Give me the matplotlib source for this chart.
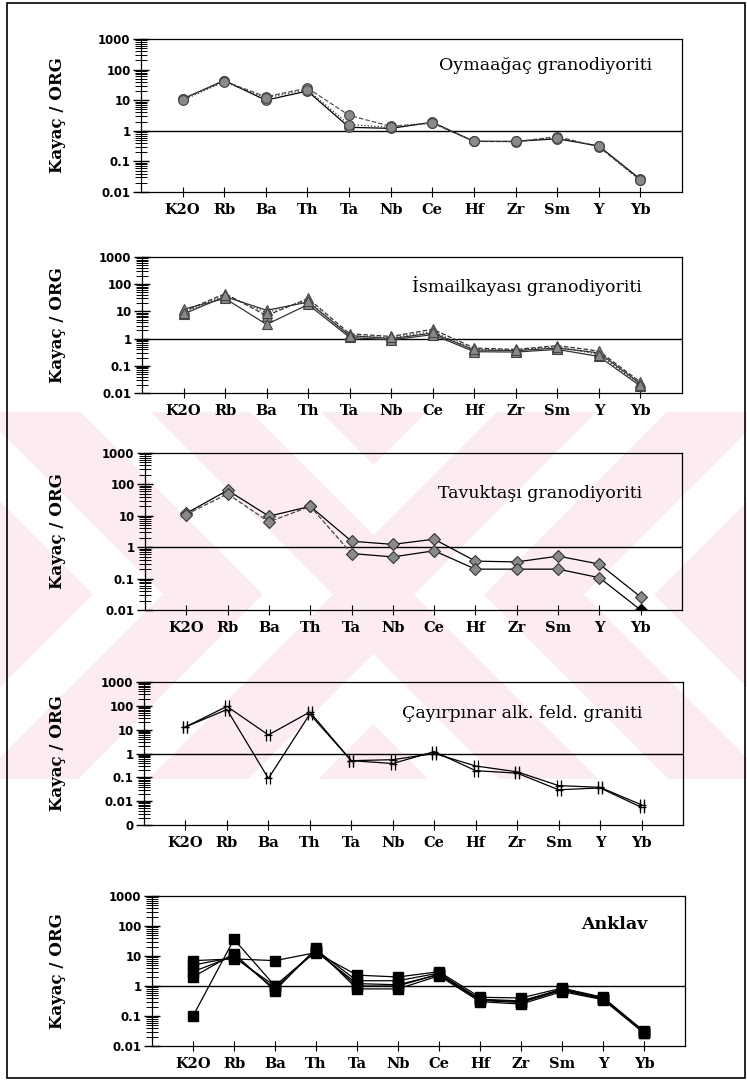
import numpy as np
import matplotlib.pyplot as plt
from matplotlib.path import Path
from matplotlib.patches import Rectangle
from matplotlib.ticker import FixedLocator, LogLocator, NullFormatter

# Veriler (Kayaç / ORG)
elementler = ['K2O', 'Rb', 'Ba', 'Th', 'Ta', 'Nb', 'Ce', 'Hf', 'Zr', 'Sm', 'Y', 'Yb']

oymaagac_1 = [11, 44, 10, 20, 1.3, 1.2, 1.9, 0.45, 0.45, 0.55, 0.32, 0.026]
oymaagac_2 = [11, 42, 13, 25, 3.2, 1.4, 1.8, 0.46, 0.44, 0.65, 0.30, 0.024]
oymaagac_3 = [10, 40, 12, 22, 1.6, 1.3, 1.8, 0.45, 0.45, 0.60, 0.31, 0.025]

ismail_1 = [8, 35, 11, 22, 1.3, 1.0, 1.6, 0.38, 0.36, 0.45, 0.30, 0.022]
ismail_2 = [10, 45, 7, 30, 1.5, 1.2, 2.2, 0.45, 0.40, 0.55, 0.35, 0.025]
ismail_3 = [12, 30, 3.3, 18, 1.1, 0.9, 1.4, 0.33, 0.32, 0.40, 0.22, 0.018]
ismail_4 = [9, 40, 9, 25, 1.2, 1.1, 1.8, 0.40, 0.38, 0.50, 0.26, 0.020]

tavuk_ust = [12, 65, 9.7, 20, 1.55, 1.23, 1.8, 0.36, 0.34, 0.52, 0.29, 0.026]
tavuk_alt = [11, 50, 6.4, 20, 0.63, 0.49, 0.77, 0.20, 0.20, 0.20, 0.107, 0.010]

cayir_1 = [13, 95, 6, 55, 0.50, 0.55, 1.0, 0.30, 0.17, 0.045, 0.038, 0.0070]
cayir_2 = [13, 70, 0.09, 45, 0.50, 0.38, 1.2, 0.19, 0.15, 0.030, 0.036, 0.0055]

anklav_1 = [0.1, 36, 1.0, 15, 1.0, 1.0, 2.5, 0.35, 0.30, 0.80, 0.40, 0.030]
anklav_2 = [7, 8, 7, 13, 2.3, 2.0, 3.0, 0.42, 0.40, 0.85, 0.42, 0.031]
anklav_3 = [3, 10, 0.8, 16, 1.5, 1.5, 2.7, 0.36, 0.32, 0.75, 0.38, 0.029]
anklav_4 = [2, 12, 0.7, 18, 0.8, 0.8, 2.2, 0.30, 0.25, 0.65, 0.35, 0.027]
anklav_5 = [5, 9, 1.0, 14, 1.2, 1.1, 2.4, 0.33, 0.28, 0.72, 0.37, 0.028]

x = np.arange(1, 13)
W, H = 747, 1083

fig = plt.figure(figsize=(W / 100, H / 100), dpi=100)

# arka plandaki soluk pembe filigran
bg = fig.add_axes([0, 0, 1, 1], zorder=-10)
bg.axis('off')
yy, xx = np.mgrid[0:H, 0:W]
desen = (np.abs(yy - 594) - np.abs(xx - 373) + 40) % 170 < 100
desen &= (yy >= 412) & (yy <= 778)
img = np.ones((H, W, 3))
img[desen] = np.array([252, 236, 239]) / 255
bg.imshow(img, extent=(0, W, H, 0), aspect='auto', interpolation='nearest')
bg.set_xlim(0, W)
bg.set_ylim(H, 0)

fig.add_artist(Rectangle((7 / W, 1 - 1078 / H), 738 / W, 1075 / H, fill=False,
                         lw=1.2, ec='black', transform=fig.transFigure))

# iki dikey cizgi isareti
cift_cizgi = Path([(-0.35, -1), (-0.35, 1), (0.35, -1), (0.35, 1), (-0.7, 0), (0.7, 0)],
                  [Path.MOVETO, Path.LINETO, Path.MOVETO, Path.LINETO, Path.MOVETO, Path.LINETO])


def panel(left, right, top, bottom, ymin, etiketler, baslik, ty, tx=0.93, kalin=False):
    ax = fig.add_axes([left / W, 1 - bottom / H, (right - left) / W, (bottom - top) / H])
    ax.set_facecolor('none')
    ax.set_yscale('log')
    ax.set_ylim(ymin, 1000)
    ax.set_xlim(0, 13)
    ax.set_xticks(x)
    ax.set_xticklabels(elementler, fontfamily='DejaVu Serif', fontweight='bold', fontsize=10.5)
    dekadlar = [10.0 ** k for k in range(int(round(np.log10(ymin))), 4)]
    ax.yaxis.set_major_locator(FixedLocator(dekadlar))
    ax.set_yticklabels(etiketler, fontfamily='DejaVu Sans', fontweight='bold', fontsize=8.5)
    ax.yaxis.set_minor_locator(LogLocator(base=10, subs=np.arange(2, 10), numticks=20))
    ax.yaxis.set_minor_formatter(NullFormatter())
    ax.tick_params(axis='y', which='major', direction='inout', length=11, width=1, pad=2)
    ax.tick_params(axis='y', which='minor', direction='inout', length=8, width=0.7)
    ax.tick_params(axis='x', direction='inout', length=7, width=0.8, pad=4.5)
    for s in ax.spines.values():
        s.set_linewidth(0.9)
    ax.axhline(1, color='black', lw=1)
    ax.text(tx, ty, baslik, transform=ax.transAxes, ha='right', va='center',
            fontfamily='DejaVu Serif', fontsize=12.5,
            fontweight='bold' if kalin else 'normal')
    fig.text(58 / W, 1 - (top + bottom) / 2 / H, 'Kayaç / ORG', rotation=90,
             ha='center', va='center', fontfamily='DejaVu Serif', fontweight='bold', fontsize=12)
    return ax


etiket5 = ['0.01', '0.1', '1', '10', '100', '1000']

# 1 - Oymaağaç
ax1 = panel(141, 682, 39, 192, 0.01, etiket5, 'Oymaağaç granodiyoriti', 0.83, tx=0.945)
for seri, ls, c in [(oymaagac_1, '-', 'black'), (oymaagac_2, '--', '#555555'), (oymaagac_3, ':', '#333333')]:
    ax1.plot(x, seri, ls=ls, color=c, lw=0.9, marker='o', ms=7, mfc='#8a8a8a', mec='#444444', mew=0.8)

# 2 - İsmailkayası
ax2 = panel(142, 682, 257, 393, 0.01, etiket5, 'İsmailkayası granodiyoriti', 0.79, tx=0.925)
for seri, ls in [(ismail_1, '-'), (ismail_2, '--'), (ismail_3, '-'), (ismail_4, ':')]:
    ax2.plot(x, seri, ls=ls, color='#333333', lw=0.9, marker='^', ms=7.5, mfc='#8a8a8a', mec='#444444', mew=0.8)

# 3 - Tavuktaşı
ax3 = panel(145, 682, 453, 610, 0.01, etiket5, 'Tavuktaşı granodiyoriti', 0.745, tx=0.925)
ax3.plot(x, tavuk_ust, ls='-', color='black', lw=0.9, marker='D', ms=6.5, mfc='#8a8a8a', mec='#333333', mew=0.8)
ax3.plot(x[:5], tavuk_alt[:5], ls='--', color='#444444', lw=0.9)
ax3.plot(x[4:], tavuk_alt[4:], ls='-', color='black', lw=0.9)
ax3.plot(x[:-1], tavuk_alt[:-1], ls='none', marker='D', ms=6.5, mfc='#8a8a8a', mec='#333333', mew=0.8)
ax3.plot(x[-1:], tavuk_alt[-1:], ls='none', marker='D', ms=6.5, mfc='black', mec='black')

# 4 - Çayırpınar
etiket6 = ['0', '0.01', '0.1', '1', '10', '100', '1000']
ax4 = panel(144, 683, 682, 825, 0.001, etiket6, 'Çayırpınar alk. feld. graniti', 0.78, tx=0.925)
for seri in [cayir_1, cayir_2]:
    ax4.plot(x, seri, ls='-', color='black', lw=0.9, marker=cift_cizgi, ms=9, mfc='none', mec='black', mew=0.9)

# 5 - Anklav
ax5 = panel(152, 685, 896, 1046, 0.01, etiket5, 'Anklav', 0.81, tx=0.93, kalin=True)
for seri in [anklav_1, anklav_2, anklav_3, anklav_4, anklav_5]:
    ax5.plot(x, seri, ls='-', color='black', lw=0.9, marker='s', ms=7, mfc='black', mec='black')

fig.savefig('out.png', dpi=100)
